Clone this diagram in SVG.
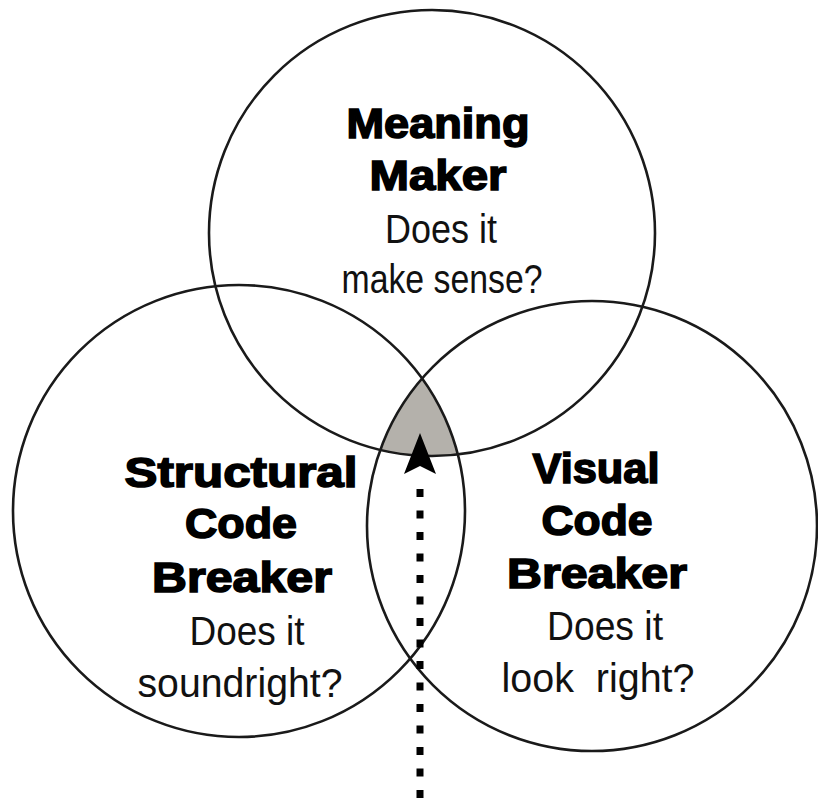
<svg xmlns="http://www.w3.org/2000/svg" width="818" height="802" viewBox="0 0 818 802">
<style>
.c{fill:none;stroke:#1a1a1a;stroke-width:2.6}
.h{font-family:"Liberation Sans",Arial,sans-serif;font-weight:bold;font-size:43px;fill:#000;stroke:#000;stroke-width:1.6;text-anchor:middle}
.r{font-family:"Liberation Sans",Arial,sans-serif;font-size:40px;fill:#111;text-anchor:middle}
</style>
<defs>
<clipPath id="clipL"><circle cx="239" cy="511" r="226"/></clipPath>
<clipPath id="clipR"><circle cx="592" cy="526" r="225"/></clipPath>
</defs>
<g id="overlap" clip-path="url(#clipL)">
<circle cx="432" cy="233" r="223" fill="#b4b1ab" clip-path="url(#clipR)"/>
</g>
<g id="meaning-maker">
<circle class="c" cx="432" cy="233" r="223"/>
<text class="h" x="438" y="138" textLength="183" lengthAdjust="spacingAndGlyphs">Meaning</text>
<text class="h" x="438" y="190" textLength="137" lengthAdjust="spacingAndGlyphs">Maker</text>
<text class="r" x="441" y="243" textLength="112" lengthAdjust="spacingAndGlyphs">Does it</text>
<text class="r" x="442" y="293" textLength="201" lengthAdjust="spacingAndGlyphs">make sense?</text>
</g>
<g id="structural-code-breaker">
<circle class="c" cx="239" cy="511" r="226"/>
<text class="h" x="241" y="487" textLength="233" lengthAdjust="spacingAndGlyphs">Structural</text>
<text class="h" x="241" y="538" textLength="112" lengthAdjust="spacingAndGlyphs">Code</text>
<text class="h" x="242" y="592" textLength="180" lengthAdjust="spacingAndGlyphs">Breaker</text>
<text class="r" x="247" y="645" textLength="115" lengthAdjust="spacingAndGlyphs">Does it</text>
<text class="r" x="240" y="697" textLength="205" lengthAdjust="spacingAndGlyphs">soundright?</text>
</g>
<g id="visual-code-breaker">
<circle class="c" cx="592" cy="526" r="225"/>
<text class="h" x="596" y="483" textLength="127" lengthAdjust="spacingAndGlyphs">Visual</text>
<text class="h" x="597" y="535" textLength="111" lengthAdjust="spacingAndGlyphs">Code</text>
<text class="h" x="597" y="588" textLength="180" lengthAdjust="spacingAndGlyphs">Breaker</text>
<text class="r" x="605" y="640" textLength="116" lengthAdjust="spacingAndGlyphs">Does it</text>
<text class="r" x="598" y="692" textLength="193" lengthAdjust="spacingAndGlyphs" xml:space="preserve">look  right?</text>
</g>
<g id="connectors">
<line x1="420" y1="798" x2="420" y2="480" stroke="#000" stroke-width="7" stroke-dasharray="8 13.5"/>
<polygon points="420,433 436,474 420,466 404,474" fill="#000"/>
</g>
</svg>
